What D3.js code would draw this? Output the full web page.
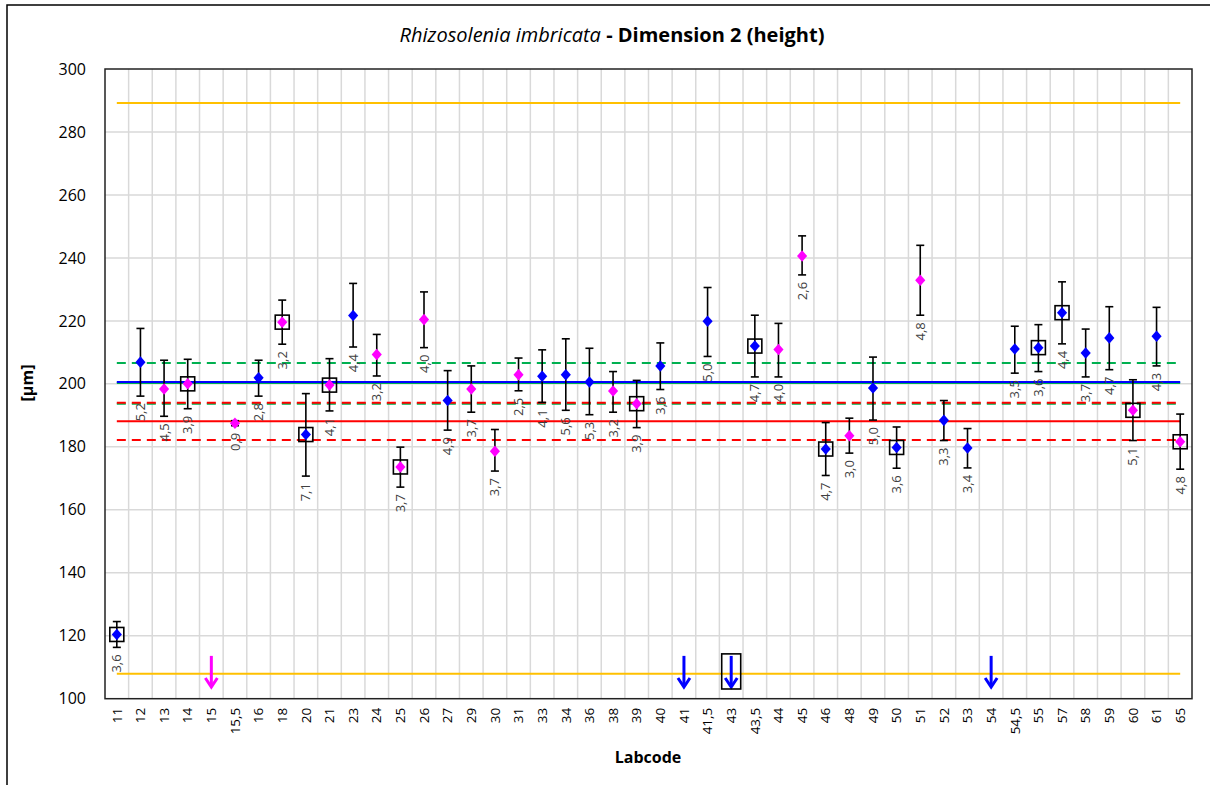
<!DOCTYPE html>
<html>
<head>
<meta charset="utf-8">
<script src="https://cdn.jsdelivr.net/npm/d3@7"></script>
<style>
  html, body { margin: 0; padding: 0; background: #fff; }
  svg { display: block; }
  text { font-family: "Open Sans", "Noto Sans", sans-serif; }
</style>
</head>
<body>
<svg id="chart" width="1210" height="785"></svg>
<script>
// ---------------- DATA ----------------
const categories = ["11","12","13","14","15","15,5","16","18","20","21","23","24","25","26","27","29","30","31","33","34","36","38","39","40","41","41,5","43","43,5","44","45","46","48","49","50","51","52","53","54","54,5","55","57","58","59","60","61","65"];

// measured value (null = below axis, shown as arrow)
const values = [120.4,206.9,198.4,200.0,null,187.5,201.9,219.6,183.9,199.6,221.7,209.3,173.6,220.4,194.7,198.4,178.6,202.9,202.4,202.9,200.6,197.7,193.7,205.7,null,219.9,null,212.0,210.9,240.6,179.3,183.5,198.7,179.8,232.9,188.4,179.6,null,211.1,211.5,222.6,209.8,214.6,191.6,215.1,181.6];

// lower / upper end of the error bars
const errLow  = [116.3,196.1,189.7,192.1,null,186.7,196.1,212.6,170.7,191.4,211.7,202.5,167.2,211.5,185.3,191.0,172.3,197.8,194.1,191.6,190.2,191.0,186.1,198.2,null,208.7,null,202.2,202.2,234.6,170.9,178.0,188.5,173.2,221.8,182.0,173.3,null,203.4,203.9,212.7,202.2,204.5,182.0,205.7,172.9];
const errHigh = [124.5,217.6,207.5,207.8,null,188.3,207.5,226.6,196.9,208.0,231.9,215.7,179.9,229.2,204.2,205.7,185.5,208.2,210.8,214.3,211.3,203.9,201.1,213.0,null,230.6,null,221.8,219.2,247.0,187.7,189.1,208.5,186.3,244.0,194.7,185.8,null,218.3,218.8,232.4,217.4,224.5,201.3,224.3,190.4];

// group: "B" = blue, "M" = magenta
const groups = ["B","B","M","M","M","M","B","M","B","M","B","M","M","M","B","M","M","M","B","B","B","M","M","B","B","B","B","B","M","M","B","M","B","B","M","B","B","B","B","B","B","B","B","M","B","M"];

// boxed (flagged) labs
const boxed = ["11","14","18","20","21","25","39","43","43,5","46","50","55","57","60","65"];

// data labels (uncertainty)
const labels = ["3,6","5,2","4,5","3,9","","0,9","2,8","3,2","7,1","4,1","4,4","3,2","3,7","4,0","4,9","3,7","3,7","2,5","4,1","5,6","5,3","3,2","3,9","3,6","","5,0","","4,7","4,0","2,6","4,7","3,0","5,0","3,6","4,8","3,3","3,4","","3,5","3,6","4,4","3,7","4,7","5,1","4,3","4,8"];

// horizontal reference lines
const refLines = [
  {value: 289.2, color: "#FFC000", dash: null},
  {value: 107.9, color: "#FFC000", dash: null},
  {value: 206.6, color: "#00B050", dash: "9,6"},
  {value: 193.7, color: "#00B050", dash: "9,6"},
  {value: 200.3, color: "#00B050", dash: null},
  {value: 200.6, color: "#0000FF", dash: null},
  {value: 194.0, color: "#FF0000", dash: "9,6"},
  {value: 188.1, color: "#FF0000", dash: null},
  {value: 182.2, color: "#FF0000", dash: "9,6"}
];

const yTicks = [100,120,140,160,180,200,220,240,260,280,300];
const colors = {B: "#0000FF", M: "#FF00FF"};

// ---------------- CHART ----------------
(function () {
const svg = d3.select("#chart");
const pLeft = 105, pRight = 1192, pTop = 69, pBottom = 698.7;

const x = d3.scaleBand().domain(categories).range([pLeft, pRight]).paddingInner(0).paddingOuter(0);
const y = d3.scaleLinear().domain([100, 300]).range([pBottom, pTop]);
const cx = c => x(c) + x.bandwidth() / 2;

// outer frame (only left/top visible in reference)
svg.append("path").attr("d", "M7,790 L7,5 L1215,5").attr("fill", "none").attr("stroke", "#000").attr("stroke-width", 1.5);

// gridlines
const grid = svg.append("g");
grid.selectAll("line.h").data(yTicks.slice(1, -1)).enter().append("line")
  .attr("x1", pLeft).attr("x2", pRight).attr("y1", d => y(d)).attr("y2", d => y(d))
  .attr("stroke", "#d9d9d9").attr("stroke-width", 1.5);
grid.selectAll("line.v").data(categories.slice(1)).enter().append("line")
  .attr("x1", d => x(d)).attr("x2", d => x(d)).attr("y1", pTop).attr("y2", pBottom)
  .attr("stroke", "#d9d9d9").attr("stroke-width", 1.5);

// plot border
svg.append("rect").attr("x", pLeft).attr("y", pTop).attr("width", pRight - pLeft).attr("height", pBottom - pTop)
  .attr("fill", "none").attr("stroke", "#222").attr("stroke-width", 1.5);

// axes
const yAxis = svg.append("g").attr("transform", `translate(${pLeft},0)`)
  .call(d3.axisLeft(y).tickValues(yTicks).tickSize(0).tickPadding(19));
yAxis.select(".domain").remove();
yAxis.selectAll("text").attr("font-size", 16).attr("fill", "#000").style("font-family", "'Open Sans', sans-serif");

const xAxis = svg.append("g").attr("transform", `translate(0,${pBottom})`)
  .call(d3.axisBottom(x).tickSize(0));
xAxis.select(".domain").remove();
xAxis.selectAll("text")
  .attr("font-size", 13.5).attr("fill", "#000")
  .style("font-family", "'Open Sans', sans-serif")
  .attr("text-anchor", "end")
  .attr("transform", "translate(0,9) rotate(-90)")
  .attr("x", 0).attr("y", 0).attr("dy", "0.35em");

// reference lines
const x0 = cx(categories[0]), x1 = cx(categories[categories.length - 1]);
svg.append("g").selectAll("line").data(refLines).enter().append("line")
  .attr("x1", x0).attr("x2", x1)
  .attr("y1", d => y(d.value)).attr("y2", d => y(d.value))
  .attr("stroke", d => d.color).attr("stroke-width", 2)
  .attr("stroke-dasharray", d => d.dash);

const data = categories.map((c, i) => ({c, v: values[i], lo: errLow[i], hi: errHigh[i], g: groups[i], lab: labels[i], box: boxed.includes(c)}));
const pts = data.filter(d => d.v !== null);
const arrows = data.filter(d => d.v === null);

// error bars
const eb = svg.append("g").attr("stroke", "#000").attr("stroke-width", 1.6).attr("fill", "none");
pts.forEach(d => {
  const px = cx(d.c);
  eb.append("line").attr("x1", px).attr("x2", px).attr("y1", y(d.lo)).attr("y2", y(d.hi));
  eb.append("line").attr("x1", px - 4).attr("x2", px + 4).attr("y1", y(d.lo)).attr("y2", y(d.lo));
  eb.append("line").attr("x1", px - 4).attr("x2", px + 4).attr("y1", y(d.hi)).attr("y2", y(d.hi));
});

// boxes
svg.append("g").selectAll("rect").data(pts.filter(d => d.box)).enter().append("rect")
  .attr("x", d => cx(d.c) - 7).attr("y", d => y(d.v) - 7).attr("width", 14).attr("height", 14)
  .attr("fill", "none").attr("stroke", "#000").attr("stroke-width", 1.6);

// diamond markers (slightly taller than wide, as in Excel)
const excelDiamond = {
  draw(ctx, size) {
    const h = Math.sqrt(size) / 1.6, w = h * 0.88;
    ctx.moveTo(0, -h); ctx.lineTo(w, 0); ctx.lineTo(0, h); ctx.lineTo(-w, 0); ctx.closePath();
  }
};
const diamond = d3.symbol().type(excelDiamond).size(85);
svg.append("g").selectAll("path").data(pts).enter().append("path")
  .attr("d", diamond)
  .attr("transform", d => `translate(${cx(d.c)},${y(d.v)})`)
  .attr("fill", d => colors[d.g]);

// data labels
svg.append("g").selectAll("text").data(pts.filter(d => d.lab)).enter().append("text")
  .attr("transform", d => `translate(${cx(d.c)},${y(d.lo) + 7}) rotate(-90)`)
  .attr("text-anchor", "end").attr("dy", "0.35em")
  .attr("font-size", 13).attr("fill", "#404040")
  .text(d => d.lab);

// arrows (values below the axis range)
const aTop = y(113.6), aTip = y(103.4);
const ag = svg.append("g").attr("fill", "none").attr("stroke-width", 3);
arrows.forEach(d => {
  const px = cx(d.c), col = colors[d.g];
  ag.append("line").attr("x1", px).attr("x2", px).attr("y1", aTop).attr("y2", aTip - 2).attr("stroke", col);
  ag.append("path").attr("d", `M${px - 6},${aTip - 10} L${px},${aTip - 1} L${px + 6},${aTip - 10}`)
    .attr("stroke", col).attr("stroke-linejoin", "miter");
  if (d.box) {
    ag.append("rect").attr("x", px - 9.5).attr("y", aTop - 2).attr("width", 19).attr("height", aTip - aTop + 3)
      .attr("stroke", "#000").attr("stroke-width", 1.6);
  }
});

// titles
const title = svg.append("text").attr("x", 612).attr("y", 42).attr("text-anchor", "middle")
  .attr("font-size", 20).attr("fill", "#000");
title.append("tspan").attr("font-style", "italic").text("Rhizosolenia imbricata");
title.append("tspan").attr("font-weight", "bold").text(" - Dimension 2 (height)");

svg.append("text").attr("x", 648).attr("y", 763).attr("text-anchor", "middle")
  .attr("font-size", 16).attr("font-weight", "bold").text("Labcode");

svg.append("text").attr("transform", "translate(33,383) rotate(-90)").attr("text-anchor", "middle")
  .attr("font-size", 16).attr("font-weight", "bold").text("[µm]");
})();
</script>
</body>
</html>
